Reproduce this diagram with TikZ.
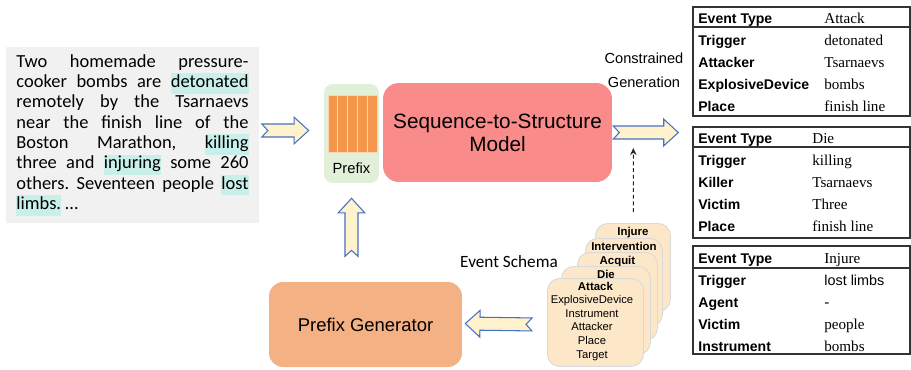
\documentclass[tikz,border=0pt]{standalone}
\usepackage{fontspec}
\setmainfont{Liberation Sans}
\newfontfamily\calibri{Carlito}
\newfontfamily\tabserif{Liberation Serif}
\usetikzlibrary{positioning, calc, arrows.meta}

\definecolor{hlcyan}{HTML}{C8EFEA}
\definecolor{passagegray}{HTML}{F1F1F1}
\definecolor{arrowfill}{HTML}{FFF2CC}
\definecolor{arrowblue}{HTML}{4472C4}
\definecolor{prefixgreen}{HTML}{E2F0D9}
\definecolor{barorange}{HTML}{F4974B}
\definecolor{modelpink}{HTML}{F98B8B}
\definecolor{pgenorange}{HTML}{F4B183}
\definecolor{cardfill}{HTML}{FCE8C8}

\setlength{\fboxsep}{0pt}
\newcommand{\hlword}[1]{\colorbox{hlcyan}{\strut #1}}

\begin{document}
\begin{tikzpicture}[x=0.02cm, y=-0.02cm,
    passage/.style={fill=passagegray, text width=132.1pt, inner xsep=5.67pt, minimum height=3.52cm,
        align=justify, font=\calibri\fontsize{10.5}{11.6}\selectfont},
    prefixbox/.style={fill=prefixgreen, rounded corners=5pt, minimum width=1.1cm, minimum height=1.98cm},
    bar/.style={fill=barorange, draw=barorange!40, line width=0.5pt, inner sep=0pt,
        minimum width=0.196cm, minimum height=1.14cm},
    modelbox/.style={fill=modelpink, rounded corners=9pt, minimum width=4.58cm, minimum height=1.98cm,
        align=center, font=\fontsize{11.8}{13}\selectfont},
    pgenbox/.style={fill=pgenorange, rounded corners=8pt, minimum width=3.86cm, minimum height=1.7cm,
        font=\fontsize{10.5}{12}\selectfont},
    card/.style={draw=black!15, fill=cardfill, rounded corners=7pt, line width=0.5pt, minimum height=1.76cm},
    cardtitle/.style={inner sep=0.5pt, font=\bfseries\fontsize{6.5}{7.5}\selectfont},
    cardbody/.style={align=center, inner sep=0pt, font=\fontsize{6.4}{7.8}\selectfont},
    tabframe/.style={draw=black!80, line width=0.8pt},
    tabkey/.style={anchor=base west, inner sep=0pt, font=\bfseries\fontsize{8}{9.6}\selectfont},
    tabval/.style={anchor=base west, inner sep=0pt, font=\tabserif\fontsize{8.6}{10}\selectfont},
    fatarrow/.style={draw=arrowblue, fill=arrowfill, line width=0.6pt,
        to path={($(\tikztostart)!3.7pt!90:(\tikztotarget)$)
            -- ($(\tikztotarget)!8.3pt!(\tikztostart)!3.7pt!90:(\tikztotarget)$)
            -- ($(\tikztotarget)!8.3pt!(\tikztostart)!7.6pt!90:(\tikztotarget)$)
            -- (\tikztotarget)
            -- ($(\tikztotarget)!8.3pt!(\tikztostart)!7.6pt!-90:(\tikztotarget)$)
            -- ($(\tikztotarget)!8.3pt!(\tikztostart)!3.7pt!-90:(\tikztotarget)$)
            -- ($(\tikztostart)!3.7pt!-90:(\tikztotarget)$)
            -- ($(\tikztostart)!3.4pt!(\tikztotarget)$)
            -- cycle}},
    dasharrow/.style={draw=black!85, line width=0.6pt, dash pattern=on 2.2pt off 1.6pt,
        -{Stealth[length=4pt, width=3.6pt]}}
]
    \useasboundingbox (0,0) rectangle (911,369);

    % input passage
    \node[passage] (passage) at (132.5,135) {\tolerance=10000\hyphenpenalty=10000\frenchspacing
        Two homemade pressure-\linebreak
        cooker bombs are \hlword{detonated}\linebreak
        remotely by the Tsarnaevs\linebreak
        near the finish line of the\linebreak
        Boston Marathon, \hlword{killing}\linebreak
        three and \hlword{injuring} some 260\linebreak
        others. Seventeen people \hlword{lost}\linebreak
        \hlword{limbs.} …};

    % prefix + model
    \node[prefixbox] (prefix) at (351.5,133.5) {};
    \foreach \i in {0,...,4}
        \node[bar] (bar\i) at (332.9+\i*9.8,123.5) {};
    \node[font=\fontsize{8.4}{10}\selectfont] (prefixlabel) at (351.5,168) {Prefix};
    \node[modelbox] (model) at (497.5,132.5) {Sequence-to-Structure\\Model};
    \node[align=center, font=\fontsize{8.3}{13.6}\selectfont] (cgenlabel) at (644,70) {Constrained\\Generation};

    % schema cards
    \foreach \cx/\cy/\cw/\cname/\ctitle in {595/223/75/injure/Injure, 585/238/77/interv/Intervention,
            577/252/80/acquit/Acquit, 561/266/89/die/Die, 547/278/96/attack/Attack} {
        \node[card, minimum width=\cw*0.02cm, anchor=north west] (\cname) at (\cx,\cy) {};
        \node[cardtitle, below=1.5pt of \cname.north] (\cname title) {\ctitle};
    }
    \node[cardbody] (attackroles) at (592,328) {ExplosiveDevice\\Instrument\\Attacker\\Place\\Target};
    \node[font=\calibri\fontsize{9.8}{11}\selectfont] (schemalabel) at (509,262) {Event Schema};

    \node[pgenbox] (pgen) at (365.5,324.5) {Prefix Generator};

    % arrows
    \coordinate (intail) at ($(passage.east)+(3,-4.5)$);
    \coordinate (inhead) at ($(prefix.west)+(-15,-3)$);
    \coordinate (outtail) at ($(model.east)+(1,0)$);
    \coordinate (outhead) at ($(model.east)+(66,0)$);
    \coordinate (uptail) at ($(prefix.south)+(0,73)$);
    \coordinate (uphead) at ($(prefix.south)+(0,15)$);
    \coordinate (lefttail) at ($(attack.west)+(-15,2)$);
    \coordinate (lefthead) at ($(pgen.east)+(3,-1)$);
    \coordinate (dashtail) at ($(injure.north)+(0.5,-11)$);
    \coordinate (dashhead) at ($(model.east)+(21,15.5)$);

    \draw[fatarrow] (intail) to (inhead);
    \draw[fatarrow] (outtail) to (outhead);
    \draw[fatarrow] (uptail) to (uphead);
    \draw[fatarrow] (lefttail) to (lefthead);
    \draw[dasharrow] (dashtail) -- (dashhead);

    % output tables
    \draw[tabframe] (693,7) rectangle (910,116);
    \draw[tabframe] (693,27) -- (910,27);
    \node[tabkey] (t1key0) at (698,23) {Event Type};
    \node[tabval] (t1val0) at (824,23) {Attack};
    \foreach \k/\v [count=\r] in {Trigger/detonated, Attacker/Tsarnaevs, ExplosiveDevice/bombs, Place/finish line} {
        \node[tabkey] (t1key\r) at (698,23+22*\r) {\k};
        \node[tabval] (t1val\r) at (824,23+22*\r) {\v};
    }

    \draw[tabframe] (693,127) rectangle (910,238);
    \draw[tabframe] (693,147) -- (910,147);
    \node[tabkey] (t2key0) at (698,143) {Event Type};
    \node[tabval] (t2val0) at (812,143) {Die};
    \foreach \k/\v [count=\r] in {Trigger/killing, Killer/Tsarnaevs, Victim/Three, Place/finish line} {
        \node[tabkey] (t2key\r) at (698,143+22*\r) {\k};
        \node[tabval] (t2val\r) at (812,143+22*\r) {\v};
    }

    \draw[tabframe] (693,246) rectangle (910,354);
    \draw[tabframe] (693,268) -- (910,268);
    \node[tabkey] (t3key0) at (698,263) {Event Type};
    \node[tabval] (t3val0) at (824,263) {Injure};
    \foreach \k/\v [count=\r] in {Trigger/{\rmfamily\fontsize{8.2}{10}\selectfont lost limbs}, Agent/{\rmfamily -}, Victim/people, Instrument/bombs} {
        \node[tabkey] (t3key\r) at (698,263+22*\r) {\k};
        \node[tabval] (t3val\r) at (824,263+22*\r) {\v};
    }
\end{tikzpicture}
\end{document}
